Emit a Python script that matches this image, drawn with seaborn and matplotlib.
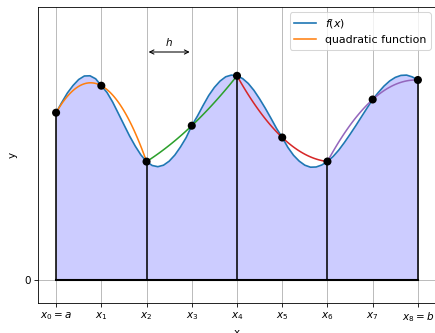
import numpy as np
import pandas as pd
import seaborn as sns
import matplotlib
matplotlib.use("Agg")
import matplotlib.pyplot as plt

fx = np.arange(0, 8.001, 0.125)
fy = [1.673, 1.775, 1.87, 1.945, 2.005, 2.04, 2.042, 2.012,
      1.943, 1.876, 1.78, 1.667, 1.553, 1.44, 1.339, 1.251,
      1.184, 1.145, 1.133, 1.148, 1.188, 1.249, 1.33, 1.423,
      1.543, 1.639, 1.745, 1.845, 1.926, 1.989, 2.032, 2.049,
      2.042, 2.014, 1.965, 1.896, 1.811, 1.718, 1.618, 1.515,
      1.425, 1.326, 1.247, 1.189, 1.148, 1.128, 1.13, 1.15,
      1.185, 1.235, 1.299, 1.375, 1.457, 1.542, 1.631, 1.719,
      1.805, 1.875, 1.939, 1.99, 2.026, 2.046, 2.049, 2.031,
      2.00]

# nodes x_0 .. x_8
nodes = [0, 1, 2, 3, 4, 5, 6, 7, 8]
node_labels = [r'$x_0 = a$', r'$x_1$', r'$x_2$', r'$x_3$', r'$x_4$',
               r'$x_5$', r'$x_6$', r'$x_7$', r'$x_8 = b$']
quad_colors = ['C1', 'C2', 'C3', 'C4']

df = pd.DataFrame({'x': fx, 'y': fy})
node_y = df.set_index('x').loc[nodes, 'y'].values

fig = plt.figure(figsize=(435/75, 333/75), dpi=75)
ax = fig.add_axes([38/435, 30/333, 398/435, 296/333])

# shaded area under f
ax.fill_between(df['x'], df['y'], 0, color='#ccccff', zorder=1, lw=0)
sns.lineplot(data=df, x='x', y='y', ax=ax, color='C0', label=r'$f(x)$', zorder=3, lw=1.6)

# quadratic through each pair of panels
for k in range(4):
    xs = nodes[2*k:2*k+3]
    ys = node_y[2*k:2*k+3]
    coef = np.polyfit(xs, ys, 2)
    xq = np.linspace(xs[0], xs[-1], 60)
    sns.lineplot(x=xq, y=np.polyval(coef, xq), ax=ax, color=quad_colors[k],
                 label='quadratic function' if k == 0 else None, zorder=3, lw=1.5)

# panel boundaries
for xv, yv in zip(nodes[::2], node_y[::2]):
    ax.plot([xv, xv], [0, yv], color='k', lw=1.5, zorder=4)
ax.plot([nodes[0], nodes[-1]], [0, 0], color='k', lw=2, zorder=4)

sns.scatterplot(x=nodes, y=node_y, ax=ax, color='k', s=60, zorder=5, edgecolor='none')

# step width arrow
ax.annotate('', xy=(2, 2.28), xytext=(3, 2.28),
            arrowprops=dict(arrowstyle='<->', color='k', lw=1))
ax.text(2.5, 2.32, r'$h$', ha='center', va='bottom', fontsize=10)

ax.set_xlim(-0.4, 8.4)
ax.set_ylim(-0.23, 2.73)
ax.set_xticks(nodes)
ax.set_xticklabels(node_labels)
ax.set_yticks([0])
ax.set_xlabel('x')
ax.set_ylabel('y', labelpad=6)
ax.grid(True)
ax.set_axisbelow(True)
ax.legend(loc='upper right', fontsize=10.5)

fig.savefig('out.png', dpi=75)
